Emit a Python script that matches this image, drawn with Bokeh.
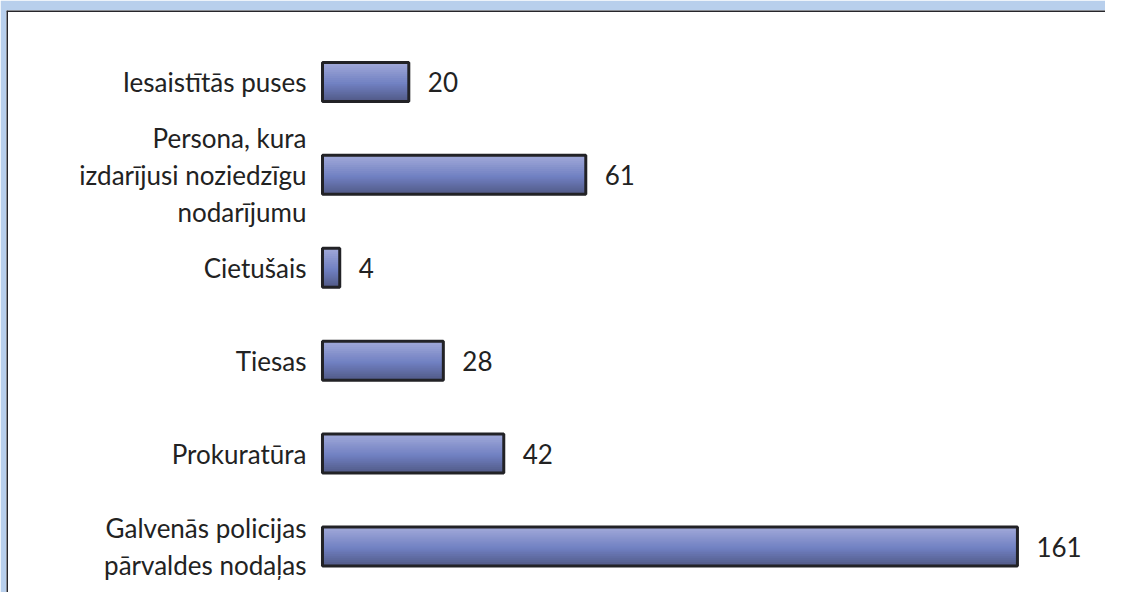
from bokeh.plotting import figure
from bokeh.models import Range1d, ColumnDataSource, Span
from bokeh.embed import file_html
from bokeh.resources import INLINE
from bokeh.core.properties import value

categories = [
    "Iesaistītās puses",
    "Persona, kura\nizdarījusi noziedzīgu\nnodarījumu",
    "Cietušais",
    "Tiesas",
    "Prokuratūra",
    "Galvenās policijas\npārvaldes nodaļas",
]
counts = [20, 61, 4, 28, 42, 161]

n = len(categories)
ypos = [n - 1 - i for i in range(n)]
labels = [str(c) for c in counts]

src = ColumnDataSource(dict(y=ypos, v=counts, cat=categories, lab=labels))

XR = Range1d(-73.2, 181.4)
YR = Range1d(-0.495, 5.769)
p = figure(width=1105, height=592, output_backend="svg", toolbar_location=None,
           x_range=XR, y_range=YR,
           x_axis_location=None, y_axis_location=None,
           min_border_left=6, min_border_top=10, min_border_right=0, min_border_bottom=0)
p.grid.visible = False
p.outline_line_color = None
p.border_fill_color = "#b8cfec"
p.background_fill_color = "white"

# frame lines (top and left)
p.add_layout(Span(location=YR.end, dimension="width", line_color="#26262b", line_width=3))
p.add_layout(Span(location=XR.start, dimension="height", line_color="#26262b", line_width=3))

# gradient stops (top -> bottom)
stops = [(0.0, (0xa0, 0xa8, 0xd8)), (0.55, (0x70, 0x80, 0xc2)), (1.0, (0x52, 0x5b, 0x88))]

def col(t):
    for (t0, c0), (t1, c1) in zip(stops[:-1], stops[1:]):
        if t0 <= t <= t1:
            f = (t - t0) / (t1 - t0)
            return "#%02x%02x%02x" % tuple(int(round(a + (b - a) * f)) for a, b in zip(c0, c1))
    return "#%02x%02x%02x" % stops[-1][1]

H = 0.42
K = 20
for k in range(K):
    t = k / (K - 1)
    top = H / 2 - k * H / K
    h = top + H / 2
    ys = [y + (top - H / 2) / 2 for y in ypos]
    p.hbar(y=ys, left=0, right=counts, height=h, fill_color=col(t), line_color=None)

p.hbar(y="y", left=0, right="v", height=H, source=src, fill_color=None,
       line_color="#222226", line_width=3)

p.text(x=0, y="y", text="cat", source=src, x_offset=-16, text_align="right",
       text_baseline="middle", text_font=value("Lato"), text_font_size="26px",
       text_line_height=1.15, text_color="#222222")
p.text(x="v", y="y", text="lab", source=src, x_offset=19, text_align="left",
       text_baseline="middle", text_font=value("Lato"), text_font_size="26px",
       text_color="#222222")

open("out.html", "w").write(file_html(p, INLINE))
